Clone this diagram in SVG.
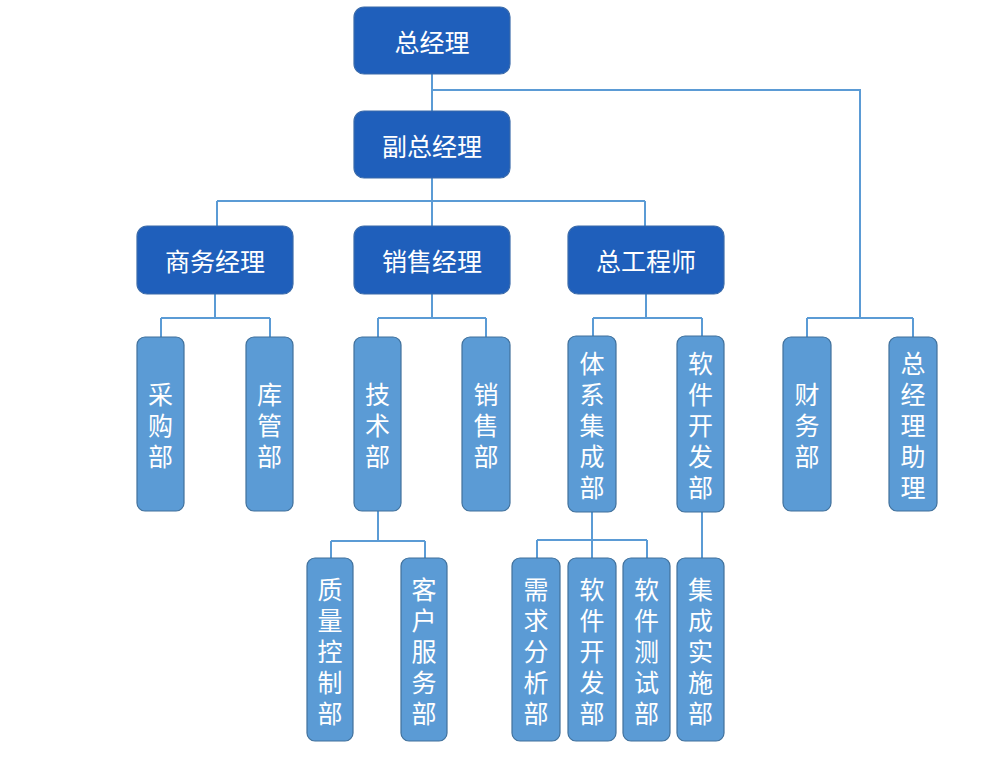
<svg xmlns="http://www.w3.org/2000/svg" width="1000" height="763" viewBox="0 0 1000 763">
<style>
.d{fill:#1F5FBB;stroke:#3B6BAA;stroke-width:1.2}
.l{fill:#5B9BD5;stroke:#41719C;stroke-width:1.2}
.t{fill:#fff;font-family:"Microsoft YaHei","Noto Sans CJK SC",sans-serif;font-size:25px;text-anchor:middle;dominant-baseline:central}
.c{fill:none;stroke:#5B9BD5;stroke-width:2}
</style>
<rect width="1000" height="763" fill="#fff"/>
<g id="connectors" class="c">
<path d="M432,74V111M432,90H860V318"/>
<path d="M432,178V201M217,201H645M217,201V226M432,201V226M645,201V226"/>
<path d="M215,294V318M161,318H270M161,318V337M270,318V337"/>
<path d="M432,294V318M378,318H486M378,318V337M486,318V337"/>
<path d="M646,294V318M593,318H702M593,318V337M702,318V337"/>
<path d="M807,318H913M807,318V337M913,318V337"/>
<path d="M378,511V541M331,541H425M331,541V558M425,541V558"/>
<path d="M592,512V540M537,540H647M537,540V558M592,540V558M647,540V558"/>
<path d="M702,512V558"/>
</g>
<g id="n_gm"><rect class="d" x="354" y="7" width="156" height="67" rx="10"/><text class="t" x="432" y="41">总经理</text></g>
<g id="n_vgm"><rect class="d" x="354" y="111" width="156" height="67" rx="10"/><text class="t" x="432" y="145">副总经理</text></g>
<g id="n_biz"><rect class="d" x="137" y="226" width="156" height="68" rx="10"/><text class="t" x="215" y="260">商务经理</text></g>
<g id="n_sales"><rect class="d" x="354" y="226" width="156" height="68" rx="10"/><text class="t" x="432" y="260">销售经理</text></g>
<g id="n_ce"><rect class="d" x="568" y="226" width="156" height="68" rx="10"/><text class="t" x="646" y="260">总工程师</text></g>

<g id="n_purchase"><rect class="l" x="137" y="337" width="47" height="174" rx="8"/><text class="t"><tspan x="160.5" y="393">采</tspan><tspan x="160.5" y="424">购</tspan><tspan x="160.5" y="455">部</tspan></text></g>
<g id="n_store"><rect class="l" x="246" y="337" width="47" height="174" rx="8"/><text class="t"><tspan x="269.5" y="393">库</tspan><tspan x="269.5" y="424">管</tspan><tspan x="269.5" y="455">部</tspan></text></g>
<g id="n_tech"><rect class="l" x="354" y="337" width="47" height="174" rx="8"/><text class="t"><tspan x="377.5" y="393">技</tspan><tspan x="377.5" y="424">术</tspan><tspan x="377.5" y="455">部</tspan></text></g>
<g id="n_salesdep"><rect class="l" x="462" y="337" width="48" height="174" rx="8"/><text class="t"><tspan x="486" y="393">销</tspan><tspan x="486" y="424">售</tspan><tspan x="486" y="455">部</tspan></text></g>
<g id="n_sys"><rect class="l" x="568" y="336" width="48" height="176" rx="8"/><text class="t"><tspan x="592" y="362">体</tspan><tspan x="592" y="393">系</tspan><tspan x="592" y="424">集</tspan><tspan x="592" y="455">成</tspan><tspan x="592" y="486">部</tspan></text></g>
<g id="n_sw"><rect class="l" x="677" y="336" width="47" height="176" rx="8"/><text class="t"><tspan x="700.5" y="362">软</tspan><tspan x="700.5" y="393">件</tspan><tspan x="700.5" y="424">开</tspan><tspan x="700.5" y="455">发</tspan><tspan x="700.5" y="486">部</tspan></text></g>
<g id="n_fin"><rect class="l" x="783" y="337" width="48" height="174" rx="8"/><text class="t"><tspan x="807" y="393">财</tspan><tspan x="807" y="424">务</tspan><tspan x="807" y="455">部</tspan></text></g>
<g id="n_asst"><rect class="l" x="889" y="337" width="48" height="174" rx="8"/><text class="t"><tspan x="913" y="362">总</tspan><tspan x="913" y="393">经</tspan><tspan x="913" y="424">理</tspan><tspan x="913" y="455">助</tspan><tspan x="913" y="486">理</tspan></text></g>

<g id="n_qc"><rect class="l" x="307" y="558" width="46" height="183" rx="8"/><text class="t"><tspan x="330" y="588">质</tspan><tspan x="330" y="619">量</tspan><tspan x="330" y="650">控</tspan><tspan x="330" y="681">制</tspan><tspan x="330" y="712">部</tspan></text></g>
<g id="n_cs"><rect class="l" x="401" y="558" width="46" height="183" rx="8"/><text class="t"><tspan x="424" y="588">客</tspan><tspan x="424" y="619">户</tspan><tspan x="424" y="650">服</tspan><tspan x="424" y="681">务</tspan><tspan x="424" y="712">部</tspan></text></g>
<g id="n_req"><rect class="l" x="512" y="558" width="48" height="183" rx="8"/><text class="t"><tspan x="536" y="588">需</tspan><tspan x="536" y="619">求</tspan><tspan x="536" y="650">分</tspan><tspan x="536" y="681">析</tspan><tspan x="536" y="712">部</tspan></text></g>
<g id="n_dev"><rect class="l" x="568" y="558" width="48" height="183" rx="8"/><text class="t"><tspan x="592" y="588">软</tspan><tspan x="592" y="619">件</tspan><tspan x="592" y="650">开</tspan><tspan x="592" y="681">发</tspan><tspan x="592" y="712">部</tspan></text></g>
<g id="n_test"><rect class="l" x="623" y="558" width="47" height="183" rx="8"/><text class="t"><tspan x="646.5" y="588">软</tspan><tspan x="646.5" y="619">件</tspan><tspan x="646.5" y="650">测</tspan><tspan x="646.5" y="681">试</tspan><tspan x="646.5" y="712">部</tspan></text></g>
<g id="n_impl"><rect class="l" x="677" y="558" width="47" height="183" rx="8"/><text class="t"><tspan x="700.5" y="588">集</tspan><tspan x="700.5" y="619">成</tspan><tspan x="700.5" y="650">实</tspan><tspan x="700.5" y="681">施</tspan><tspan x="700.5" y="712">部</tspan></text></g>
</svg>
